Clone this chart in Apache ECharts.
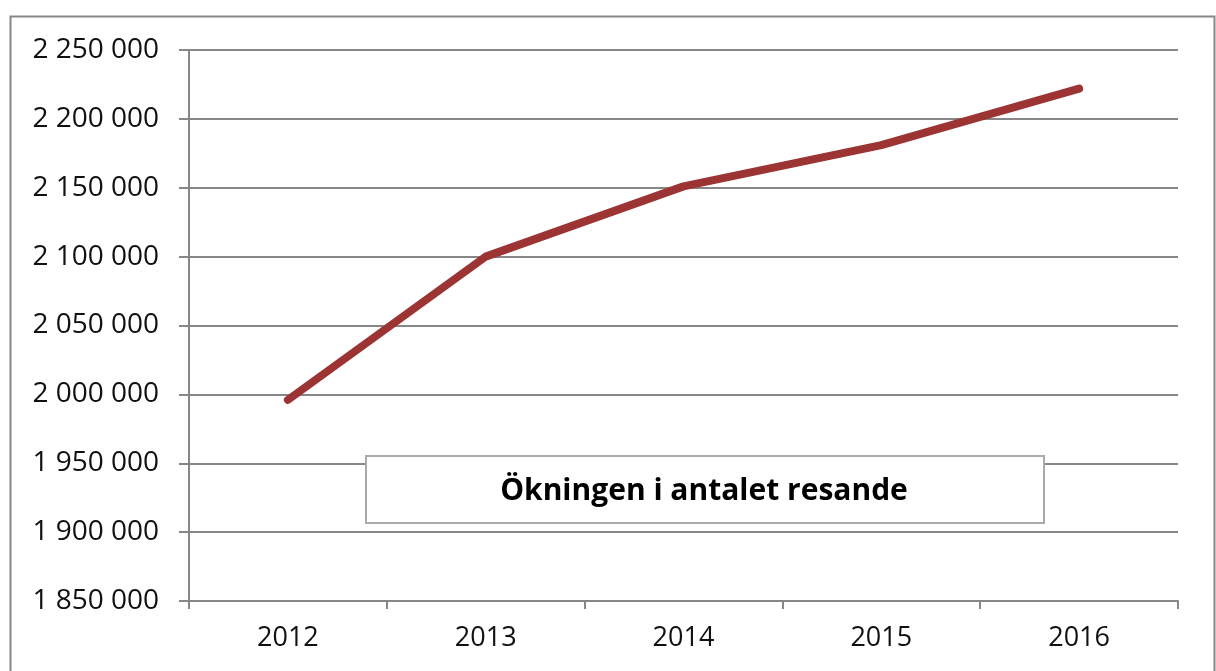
<!DOCTYPE html>
<html>
<head>
<meta charset="utf-8">
<script src="https://cdn.jsdelivr.net/npm/echarts@6/dist/echarts.min.js"></script>
<style>
  html, body { margin: 0; padding: 0; background: #fff; }
  #chart-container { width: 1216px; height: 671px; }
</style>
</head>
<body>
<div id="chart-container"></div>
<script>
var years = ["2012", "2013", "2014", "2015", "2016"];
var travellers = [1996000, 2100000, 2151000, 2181000, 2222000];
var yMin = 1850000;
var yMax = 2250000;
var yStep = 50000;
var boxText = "Ökningen i antalet resande";

var dom = document.getElementById("chart-container");
var myChart = echarts.init(dom, null, { renderer: "canvas" });
var option;

function spaced(v) {
  return String(v).replace(/\B(?=(\d{3})+(?!\d))/g, " ");
}

var gray = "#878787";

option = {
  animation: false,
  textStyle: { fontFamily: "Open Sans" },
  grid: { left: 189, top: 50, right: 38, bottom: 70, containLabel: false },
  xAxis: {
    type: "category",
    data: years,
    boundaryGap: true,
    axisLine: { lineStyle: { color: gray, width: 2 } },
    axisTick: { show: true, length: 8, lineStyle: { color: gray, width: 2 } },
    axisLabel: { color: "#111", fontSize: 27, fontFamily: "Open Sans", margin: 24 }
  },
  yAxis: {
    type: "value",
    min: yMin,
    max: yMax,
    interval: yStep,
    axisLine: { show: true, lineStyle: { color: gray, width: 2 } },
    axisTick: { show: true, length: 10, lineStyle: { color: gray, width: 2 } },
    splitLine: { lineStyle: { color: gray, width: 2 } },
    axisLabel: { color: "#111", fontSize: 28, fontFamily: "Open Sans", margin: 30, formatter: spaced }
  },
  graphic: [
    {
      type: "rect",
      left: 8,
      top: 14,
      shape: { width: 1204, height: 680 },
      style: { fill: "none", stroke: gray, lineWidth: 2 },
      z: -1
    },
    {
      type: "rect",
      left: 365,
      top: 455,
      shape: { width: 678, height: 67 },
      style: { fill: "#fff", stroke: "#aaa", lineWidth: 2 },
      z: 10
    },
    {
      type: "text",
      x: 704,
      y: 491,
      style: {
        text: boxText,
        fill: "#000",
        font: "bold 30px 'Open Sans'",
        align: "center",
        verticalAlign: "middle"
      },
      z: 11
    }
  ],
  series: [
    {
      type: "line",
      data: travellers,
      symbol: "none",
      lineStyle: { color: "#9B3432", width: 8, cap: "round", join: "round" }
    }
  ]
};

if (option && typeof option === "object") {
  myChart.setOption(option);
}

window.addEventListener("resize", myChart.resize);
</script>
</body>
</html>
